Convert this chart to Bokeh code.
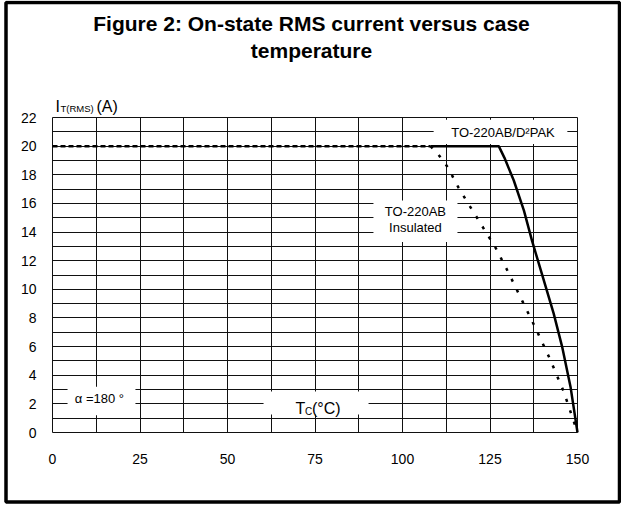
from bokeh.plotting import figure
from bokeh.models import Range1d, FixedTicker, Label, BoxAnnotation
from bokeh.embed import file_html
from bokeh.resources import INLINE

# ---- data ----
x_ticks = [0, 25, 50, 75, 100, 125, 150]
y_ticks = [0, 2, 4, 6, 8, 10, 12, 14, 16, 18, 20, 22]
x_grid = [0, 12.5, 25, 37.5, 50, 62.5, 75, 87.5, 100, 112.5, 125, 137.5, 150]
y_grid = list(range(0, 23))

# TO-220AB / D2PAK (solid)
d2pak_x = [108, 127.5, 129.1, 131.8, 134.7, 137.0, 140.4, 143.2, 145.6, 148.0, 150]
d2pak_y = [20, 20, 19.2, 17.6, 15.5, 13.4, 10.6, 8.3, 6.0, 3.2, 0]

# TO-220AB Insulated (dashed)
ins_x = [0, 108, 110, 113, 116, 119, 122.3, 126.6, 130, 134, 138, 142, 146, 150]
ins_y = [20, 20, 19.5, 18.5, 17.1, 15.9, 14.6, 12.9, 11.3, 9.3, 7.3, 5.2, 2.9, 0]

FONT = "Liberation Sans"
W, H = 621, 507
# plot area (0..150 x 0..22) sits at px 52..577 horizontally, 117..432 vertically
PX_X = 525 / 150.0
PX_Y = 315 / 22.0
x0 = -52 / PX_X
x1 = 150 + (W - 577) / PX_X
y0 = -(H - 432) / PX_Y
y1 = 22 + 117 / PX_Y

p = figure(width=W, height=H, x_range=Range1d(x0, x1), y_range=Range1d(y0, y1),
           output_backend="svg", toolbar_location=None,
           min_border_left=0, min_border_right=0, min_border_top=0, min_border_bottom=0)
p.title.visible = False
p.background_fill_color = "white"
p.border_fill_color = "white"
p.outline_line_color = None

# axes (drawn at fixed positions inside the canvas)
p.xaxis.ticker = FixedTicker(ticks=x_ticks)
p.yaxis.ticker = FixedTicker(ticks=y_ticks)
p.xaxis.fixed_location = 0
p.yaxis.fixed_location = 0
for ax in (p.xaxis[0], p.yaxis[0]):
    ax.axis_line_color = None
    ax.major_tick_line_color = None
    ax.minor_tick_line_color = None
    ax.major_label_text_font = FONT
    ax.major_label_text_color = "#000000"
p.xaxis.major_label_text_font_size = "14px"
p.yaxis.major_label_text_font_size = "14px"
p.xaxis.major_label_standoff = 15
p.yaxis.major_label_standoff = 10

# grid
p.xgrid.ticker = FixedTicker(ticks=x_grid)
p.ygrid.ticker = FixedTicker(ticks=y_grid)
p.xgrid.bounds = (0, 150)
p.xgrid.cross_bounds = (0, 22)
p.ygrid.bounds = (0, 22)
p.ygrid.cross_bounds = (0, 150)
for g in (p.xgrid[0], p.ygrid[0]):
    g.grid_line_color = "#111111"
    g.grid_line_width = 1
    g.level = "image"

# white label boxes that break the grid
boxes = [
    (108.9, 147.1, 20.15, 21.85),
    (91.7, 115.7, 13.3, 16.2),
    (4.3, 23.7, 1.2, 3.2),
    (60.3, 90.3, 1.26, 2.86),
]
for l, r, b, t in boxes:
    p.add_layout(BoxAnnotation(left=l, right=r, bottom=b, top=t, fill_color="white",
                               fill_alpha=1, line_color=None, level="underlay"))

# curves
p.line(ins_x[:2], ins_y[:2], line_color="black", line_width=2.5, line_dash="5 3")
p.line(ins_x[1:], ins_y[1:], line_color="black", line_width=2.5, line_dash="3 9")
p.line(d2pak_x, d2pak_y, line_color="black", line_width=2.5)

def lab(x, y, text, size, align="center", baseline="middle", xo=0, yo=0, bold=False):
    p.add_layout(Label(x=x, y=y, text=text, text_font=FONT, text_font_size=size,
                       text_align=align, text_baseline=baseline, x_offset=xo, y_offset=yo,
                       text_font_style="bold" if bold else "normal", text_color="black"))

def px2x(px):
    return (px - 52) / PX_X

def py2y(py):
    return (432 - py) / PX_Y

# title
lab(px2x(311), py2y(23), "Figure 2: On-state RMS current versus case", "21px", bold=True)
lab(px2x(311), py2y(50), "temperature", "21px", bold=True)

# y axis label  I_T(RMS)(A)
lab(px2x(55), py2y(106), "I", "16px", align="left", baseline="alphabetic")
lab(px2x(55), py2y(106), "T(RMS)", "9.5px", align="left", baseline="alphabetic", xo=5, yo=-2)
lab(px2x(55), py2y(106), "(A)", "16px", align="left", baseline="alphabetic", xo=41)

# curve labels
lab(128.7, 20.97, "TO-220AB/D\u00b2PAK", "13px")
lab(103.7, 15.42, "TO-220AB", "13px")
lab(103.7, 14.34, "Insulated", "13px")
lab(13.4, 2.35, "\u03b1 =180 \u00b0", "13px")

# x axis label  T_C(°C)
lab(69.4, 1.65, "T", "16px", align="left", baseline="alphabetic")
lab(69.4, 1.65, "C", "10px", align="left", baseline="alphabetic", xo=9.5, yo=-3)
lab(69.4, 1.65, "(\u00b0C)", "16px", align="left", baseline="alphabetic", xo=16.5)

# outer frame
p.add_layout(BoxAnnotation(left=px2x(5.5), right=px2x(619), top=py2y(2), bottom=py2y(501.5),
                           fill_alpha=0, line_color="black", line_alpha=1, line_width=3.5,
                           level="overlay"))

open("out.html", "w").write(file_html(p, INLINE))
